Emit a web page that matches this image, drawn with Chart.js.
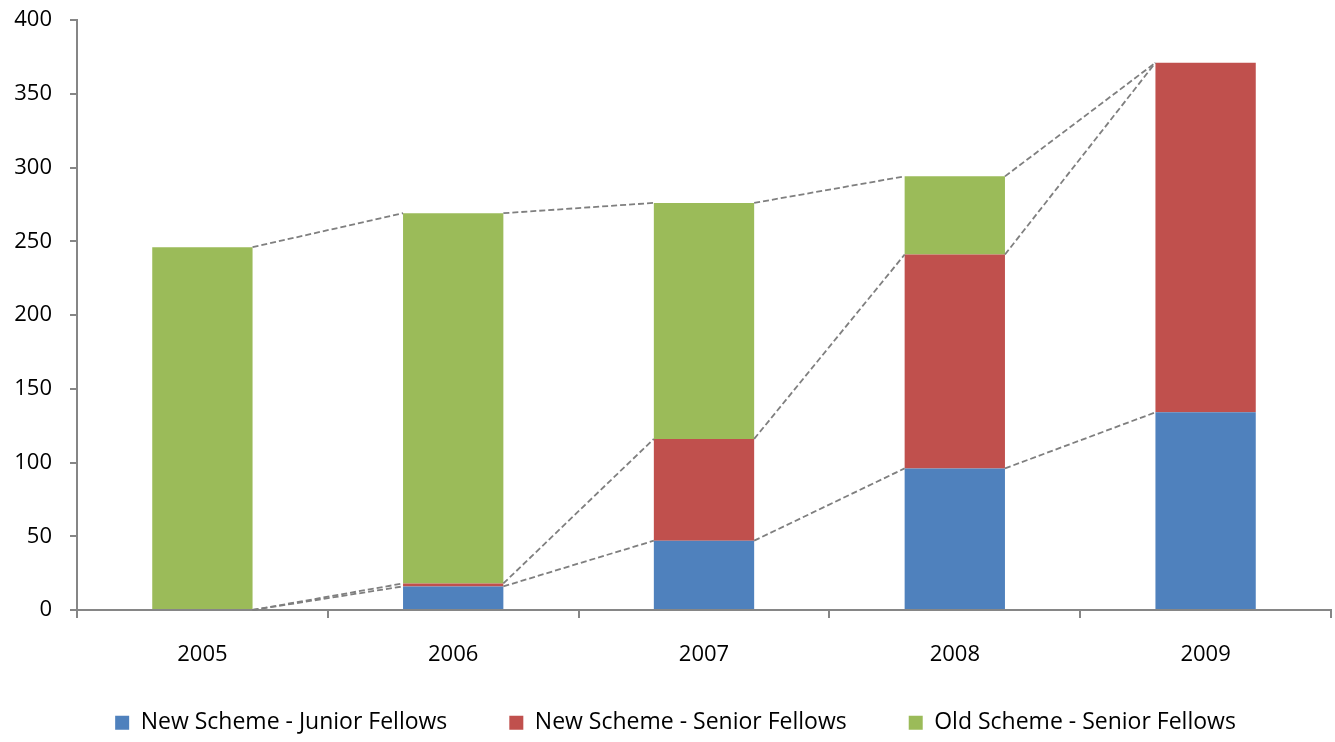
<!DOCTYPE html>
<html>
<head>
<meta charset="utf-8">
<script src="https://cdn.jsdelivr.net/npm/chart.js@4/dist/chart.umd.min.js"></script>
<style>
  html, body { margin: 0; padding: 0; background: #ffffff; }
  #wrap { width: 1335px; height: 742px; }
</style>
</head>
<body>
<div id="wrap"><canvas id="chart" width="1335" height="742"></canvas></div>
<script>
// Fellowship counts per year, stacked by scheme
const years = ['2005', '2006', '2007', '2008', '2009'];
const newJunior = [0, 16, 47, 96, 134];
const newSenior = [0, 2, 69, 145, 237];
const oldSenior = [246, 251, 160, 53, 0];
const yTicks = [0, 50, 100, 150, 200, 250, 300, 350, 400];

const AXIS_GRAY = '#868686';
const FONT = 'Open Sans';
const FONT_SIZE = 22;
const LEGEND_FONT_SIZE = 23;
const LEGEND_GAP = 62;
const LEGEND_ROW_Y = 725;
const LEGEND_SHIFT_X = 10;

// Dashed "series lines" joining the top of each stacked segment
// from the right edge of one bar to the left edge of the next.
const seriesLines = {
  id: 'seriesLines',
  afterDatasetsDraw(chart) {
    const ctx = chart.ctx;
    ctx.save();
    ctx.strokeStyle = '#7f7f7f';
    ctx.lineWidth = 1.8;
    ctx.setLineDash([6, 3]);
    chart.data.datasets.forEach((ds, di) => {
      const meta = chart.getDatasetMeta(di);
      for (let i = 0; i < meta.data.length - 1; i++) {
        const a = meta.data[i], b = meta.data[i + 1];
        ctx.beginPath();
        ctx.moveTo(a.x + a.width / 2, a.y);
        ctx.lineTo(b.x - b.width / 2, b.y);
        ctx.stroke();
      }
    });
    ctx.restore();
  }
};

// The legend uses a wide gap between entries; keep it compact in the
// layout and then place its row near the bottom edge of the canvas.
const legendRow = {
  id: 'legendRow',
  afterLayout(chart) {
    const lg = chart.legend;
    if (!lg) return;
    const itemH = LEGEND_FONT_SIZE * 1.2;
    lg.top = LEGEND_ROW_Y - itemH / 2 - LEGEND_GAP;
    lg.bottom = chart.height;
    lg.height = lg.bottom - lg.top;
    lg.left += LEGEND_SHIFT_X;
    lg.right += LEGEND_SHIFT_X;
  }
};

new Chart(document.getElementById('chart'), {
  type: 'bar',
  data: {
    labels: years,
    datasets: [
      { label: 'New Scheme - Junior Fellows', data: newJunior, backgroundColor: '#4f81bd' },
      { label: 'New Scheme - Senior Fellows', data: newSenior, backgroundColor: '#c0504d' },
      { label: 'Old Scheme - Senior Fellows', data: oldSenior, backgroundColor: '#9bbb59' }
    ]
  },
  options: {
    responsive: false,
    animation: false,
    maintainAspectRatio: false,
    categoryPercentage: 1,
    barPercentage: 0.4,
    layout: { padding: { left: 0, right: 4, top: 20, bottom: 0 } },
    plugins: {
      tooltip: { enabled: false },
      legend: {
        position: 'bottom',
        maxHeight: 30,
        labels: {
          boxWidth: 14,
          boxHeight: 14,
          padding: LEGEND_GAP,
          color: '#000000',
          font: { family: FONT, size: LEGEND_FONT_SIZE }
        }
      }
    },
    scales: {
      x: {
        stacked: true,
        offset: true,
        afterFit(scale) { scale.height = 102; },
        grid: {
          offset: true,
          drawOnChartArea: false,
          drawTicks: true,
          tickLength: 8,
          color: AXIS_GRAY,
          lineWidth: 2
        },
        border: { display: true, color: AXIS_GRAY, width: 2 },
        ticks: { color: '#000000', padding: 24, font: { family: FONT, size: FONT_SIZE } }
      },
      y: {
        stacked: true,
        min: 0,
        max: 400,
        afterFit(scale) {
          scale.width = 77;
          scale.paddingTop = 0;
          scale.paddingBottom = 0;
        },
        afterBuildTicks(scale) { scale.ticks = yTicks.map(v => ({ value: v })); },
        grid: {
          drawOnChartArea: false,
          drawTicks: true,
          tickLength: 7,
          color: AXIS_GRAY,
          lineWidth: 2
        },
        border: { display: true, color: AXIS_GRAY, width: 2 },
        ticks: { color: '#000000', padding: 18, font: { family: FONT, size: FONT_SIZE } }
      }
    }
  },
  plugins: [seriesLines, legendRow]
});
</script>
</body>
</html>
